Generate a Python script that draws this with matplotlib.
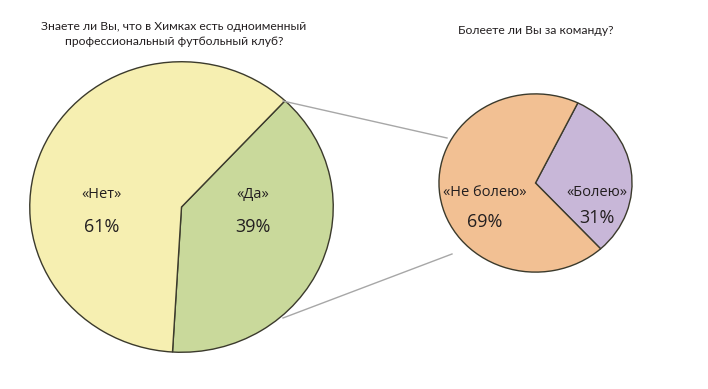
import matplotlib.pyplot as plt
from matplotlib.lines import Line2D

plt.rcParams['font.family'] = ['Open Sans', 'DejaVu Sans']

W, H = 708, 389

q1 = 'Знаете ли Вы, что в Химках есть одноименный\nпрофессиональный футбольный клуб?'
labels1 = ['«Да»', '«Нет»']
values1 = [39, 61]
colors1 = ['#c9d99b', '#f6efb1']

q2 = 'Болеете ли Вы за команду?'
labels2 = ['«Болею»', '«Не болею»']
values2 = [31, 69]
colors2 = ['#c8b7d8', '#f2c093']

fig = plt.figure(figsize=(W / 100, H / 100), dpi=100)


def px_axes(x0, y0, x1, y1):
    # pixel box (top-left origin) -> axes
    return fig.add_axes([x0 / W, 1 - y1 / H, (x1 - x0) / W, (y1 - y0) / H])


ax1 = px_axes(29, 61, 334, 353)
ax1.pie(values1, colors=colors1, startangle=47, counterclock=False,
        wedgeprops=dict(edgecolor='#3b3a2c', linewidth=1.0))
ax1.set_aspect('auto')
ax1.set_xlim(-1.005, 1.005)
ax1.set_ylim(-1.005, 1.005)

ax2 = px_axes(438, 93, 633, 273)
ax2.pie(values2, colors=colors2, startangle=64, counterclock=False,
        wedgeprops=dict(edgecolor='#3b3a2c', linewidth=1.0))
ax2.set_aspect('auto')
ax2.set_xlim(-1.01, 1.01)
ax2.set_ylim(-1.01, 1.01)


def ftext(x, y, s, **kw):
    fig.text(x / W, 1 - y / H, s, ha='center', va='center', color='#231f20', **kw)


title_font = ['Lato', 'DejaVu Sans']
ftext(174, 34, q1, fontsize=8.7, linespacing=1.45, family=title_font)
ftext(536, 31, q2, fontsize=8.7, family=title_font)

ftext(102, 195, labels1[1], fontsize=10.5)
ftext(102, 227, f'{values1[1]}%', fontsize=13)
ftext(253, 195, labels1[0], fontsize=10.5)
ftext(253, 227, f'{values1[0]}%', fontsize=13)
ftext(485, 192, labels2[1], fontsize=10.5)
ftext(485, 222, f'{values2[1]}%', fontsize=13)
ftext(597, 192, labels2[0], fontsize=10.5)
ftext(597, 218, f'{values2[0]}%', fontsize=13)

for (xa, ya), (xb, yb) in [((283, 101), (447, 138)), ((283, 318), (452, 254))]:
    fig.add_artist(Line2D([xa / W, xb / W], [1 - ya / H, 1 - yb / H],
                          transform=fig.transFigure, color='#a7a7a7', linewidth=1.0))

fig.savefig('out.png', dpi=100, facecolor='white')
